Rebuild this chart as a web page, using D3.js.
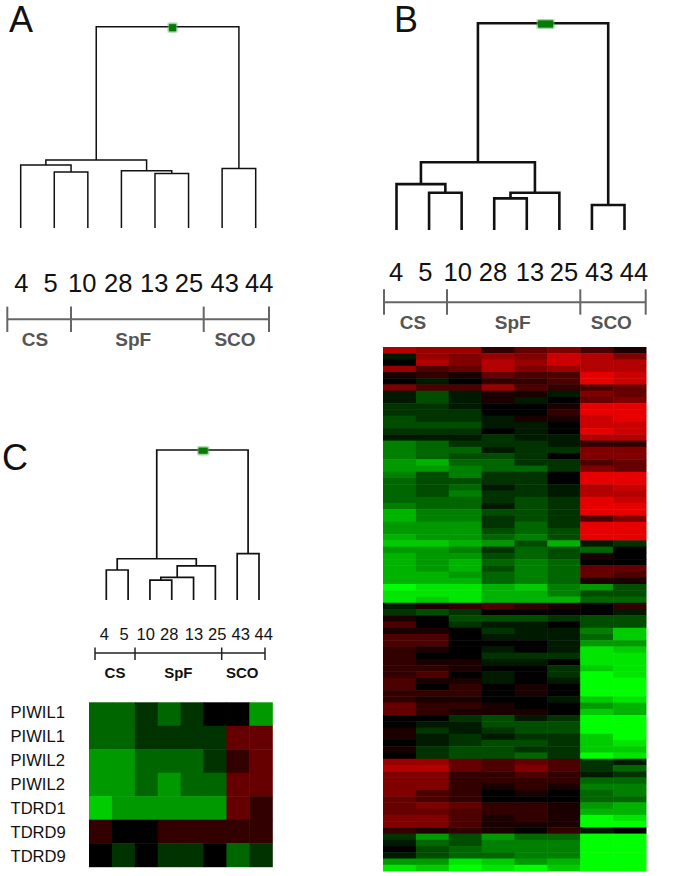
<!DOCTYPE html>
<html>
<head>
<title>Clustered expression heatmaps</title>
<script src="https://d3js.org/d3.v7.min.js"></script>
<style>
  html, body { margin: 0; padding: 0; background: #fff; }
  svg { display: block; }
  text { font-family: "Liberation Sans", Arial, sans-serif; }
</style>
</head>
<body>
<div id="chart"></div>
<script>
// sample ids, left to right
var samples = ["4", "5", "10", "28", "13", "25", "43", "44"];
var groups = [
  { name: "CS", from: 0, to: 1 },
  { name: "SpF", from: 1, to: 2 },
  { name: "SCO", from: 2, to: 3 }
];

// dendrograms, h = merge height (0 = leaves, 1 = root)
var leaf = function(s) { return { s: s }; };
var treeA = { h: 1, kids: [
  { h: 0.338, kids: [
    { h: 0.313, kids: [leaf("4"), { h: 0.278, kids: [leaf("5"), leaf("10")] }] },
    { h: 0.285, kids: [leaf("28"), { h: 0.271, kids: [leaf("13"), leaf("25")] }] }
  ] },
  { h: 0.295, kids: [leaf("43"), leaf("44")] }
] };
var treeB = { h: 1, kids: [
  { h: 0.328, kids: [
    { h: 0.222, kids: [leaf("4"), { h: 0.18, kids: [leaf("5"), leaf("10")] }] },
    { h: 0.18, kids: [{ h: 0.153, kids: [leaf("28"), leaf("13")] }, leaf("25")] }
  ] },
  { h: 0.121, kids: [leaf("43"), leaf("44")] }
] };
var treeC = { h: 1, kids: [
  { h: 0.275, kids: [
    { h: 0.2, kids: [leaf("4"), leaf("5")] },
    { h: 0.227, kids: [
      { h: 0.151, kids: [{ h: 0.133, kids: [leaf("10"), leaf("28")] }, leaf("13")] },
      leaf("25")
    ] }
  ] },
  { h: 0.309, kids: [leaf("43"), leaf("44")] }
] };

// panel C heatmap, red positive, green negative, -10..10
var genesC = ["PIWIL1", "PIWIL1", "PIWIL2", "PIWIL2", "TDRD1", "TDRD9", "TDRD9"];
var heatC = [
  [-4, -4, -2, -4, -2, 0, 0, -6],
  [-4, -4, -2, -2, -2, -2, 4, 4],
  [-6, -6, -4, -4, -4, -2, 2, 4],
  [-6, -6, -4, -6, -4, -4, 4, 4],
  [-8, -6, -6, -6, -6, -6, 4, 2],
  [2, 0, 0, 2, 2, 2, 2, 2],
  [0, -2, 0, -2, -2, 0, -4, -2]
];

// panel B heatmap
var heatB = [
  [7, 6, 6, 2, 4, 5, 3, 1],
  [-1, 6, 5, 6, 5, 8, 7, 5],
  [0, 7, 5, 7, 6, 8, 7, 7],
  [6, 3, 4, 7, 5, 6, 7, 7],
  [1, 2, 1, 4, 3, 3, 9, 8],
  [0, -1, 0, 2, 2, 3, 9, 8],
  [5, 3, 3, 6, 3, 2, 3, 4],
  [-1, -3, -1, 1, 1, -1, 5, 4],
  [-1, -3, -1, 1, -1, 0, 4, 5],
  [-2, -2, -1, 0, 0, 1, 9, 9],
  [-2, -2, -2, 0, 0, 2, 9, 9],
  [-3, -2, -2, -1, 1, 1, 8, 9],
  [-3, -3, -3, -1, -1, 0, 8, 8],
  [-2, -2, -2, 0, -1, 0, 9, 8],
  [-1, -1, -1, -2, -1, -1, 7, 7],
  [-5, -4, -2, -2, -2, -1, 2, 2],
  [-5, -4, -4, -1, -2, -2, 5, 5],
  [-5, -4, -3, -3, -2, 0, 5, 5],
  [-6, -7, -4, -4, -2, -2, 3, 4],
  [-6, -6, -5, -4, -4, -2, 5, 4],
  [-5, -3, -5, -2, -2, 0, 9, 9],
  [-4, -3, -3, -2, -2, 0, 9, 9],
  [-4, -3, -4, -1, -2, -1, 7, 8],
  [-4, -3, -5, -2, -2, -1, 7, 7],
  [-4, -4, -4, -2, -3, -2, 9, 8],
  [-5, -4, -4, -1, -3, -2, 9, 9],
  [-7, -5, -5, -3, -3, -2, 9, 9],
  [-7, -5, -5, -2, -3, -2, 3, 5],
  [-6, -6, -6, -2, -4, -2, 9, 9],
  [-6, -6, -6, -3, -4, -3, 9, 9],
  [-7, -6, -6, -4, -5, -3, 9, 9],
  [-8, -8, -7, -6, -3, -7, -1, -2],
  [-6, -6, -5, -2, -4, -3, -4, 0],
  [-7, -6, -6, -3, -4, -3, 1, 0],
  [-7, -6, -7, -4, -5, -4, 0, 0],
  [-7, -6, -7, -3, -5, -4, 4, 4],
  [-7, -7, -6, -4, -5, -4, 4, 3],
  [-7, -7, -7, -4, -5, -4, 1, 1],
  [-10, -9, -9, -7, -8, -5, -6, -3],
  [-9, -9, -9, -7, -7, -5, -3, -3],
  [-9, -8, -9, -7, -7, -7, -4, -4],
  [-1, 1, 2, 3, 2, 1, 0, 2],
  [-2, -3, -2, 0, 0, 0, 0, -1],
  [1, 0, -3, -3, -3, -2, -3, -3],
  [3, 0, -2, -1, -1, 0, -3, -3],
  [1, 1, 0, -2, -1, -1, -5, -8],
  [3, 3, 0, -1, -1, -1, -4, -8],
  [3, 3, 0, 0, 0, -1, -6, -6],
  [2, 1, 0, -1, 0, -1, -9, -8],
  [2, 0, 0, -2, -2, -2, -9, -9],
  [2, 1, 1, -1, -1, 0, -9, -9],
  [2, 2, 1, 0, 0, -2, -8, -9],
  [2, 3, 0, -1, 0, -2, -10, -9],
  [3, 1, 1, -1, 0, -1, -10, -10],
  [3, 0, 2, 0, 1, 0, -10, -10],
  [2, 2, 2, 0, 1, 0, -10, -10],
  [2, 1, 1, 0, 0, -1, -8, -9],
  [4, 2, 2, 1, 0, 0, -6, -7],
  [4, 2, 1, 1, 1, 0, -8, -7],
  [0, 0, -2, -3, -1, -2, -10, -10],
  [0, -1, -1, -3, -3, -3, -10, -10],
  [1, -2, -1, -2, -3, -3, -10, -10],
  [1, -1, -2, -1, -2, -2, -8, -10],
  [0, -1, -2, -3, -3, -2, -8, -9],
  [1, -2, -3, -3, -2, -2, -8, -8],
  [0, -2, -3, -3, -4, -2, -10, -9],
  [6, 6, 4, 3, 4, 3, -2, -1],
  [7, 7, 4, 3, 5, 3, -2, -4],
  [5, 5, 2, 2, 3, 2, -1, -2],
  [5, 5, 2, 2, 2, 2, -4, -4],
  [5, 5, 2, 1, 2, 1, -5, -5],
  [5, 3, 2, 0, 1, 0, -4, -5],
  [4, 3, 2, 0, 0, 0, -4, -4],
  [4, 5, 4, 2, 2, 1, -6, -7],
  [4, 4, 3, 2, 2, 1, -7, -7],
  [5, 5, 3, 1, 2, 1, -10, -9],
  [5, 5, 3, 1, 1, 1, -10, -10],
  [2, 1, 2, 1, 0, 2, -1, 0],
  [-2, -6, -3, -6, -4, -4, -10, -10],
  [-1, -4, -3, -5, -5, -5, -10, -10],
  [0, -3, -4, -5, -5, -5, -10, -10],
  [-1, -3, -4, -4, -5, -5, -10, -10],
  [-6, -6, -9, -8, -6, -7, -10, -10],
  [-9, -8, -10, -9, -10, -8, -10, -10]
];

var svg = d3.select("#chart").append("svg")
  .attr("width", 692)
  .attr("height", 876);

var color = d3.scaleLinear()
  .domain([-10, 0, 10])
  .range(["#00ff00", "#000000", "#ff0000"]);

var defs = svg.append("defs");
function addBlur(id, sd) {
  defs.append("filter").attr("id", id)
    .attr("x", "-5%").attr("y", "-5%").attr("width", "110%").attr("height", "110%")
    .attr("color-interpolation-filters", "sRGB")
    .append("feGaussianBlur").attr("stdDeviation", sd);
}
addBlur("soft", 0.45);
addBlur("softHeat", 0.7);
addBlur("glow", 0.9);

function drawLetter(s, x, y) {
  svg.append("text").attr("x", x).attr("y", y)
    .style("font-size", "36px").style("fill", "#111").text(s);
}

// dendrogram from a nested tree, parent sits midway between its children
function drawTree(tree, o) {
  var x = d3.scalePoint().domain(samples).range(o.xRange);
  var y = d3.scaleLinear().domain([0, 1]).range(o.yRange);
  var root = d3.hierarchy(tree, function(d) { return d.kids; });
  root.eachAfter(function(n) {
    n.px = n.children ? d3.mean(n.children, function(c) { return c.px; }) : x(n.data.s);
    n.py = n.children ? y(n.data.h) : y(0);
  });
  var p = d3.path();
  root.descendants().forEach(function(n) {
    if (!n.children) return;
    var a = n.children[0], b = n.children[1];
    p.moveTo(a.px, a.py);
    p.lineTo(a.px, n.py);
    p.lineTo(b.px, n.py);
    p.lineTo(b.px, b.py);
  });
  var g = svg.append("g").attr("filter", "url(#soft)");
  g.append("path").attr("d", p.toString())
    .attr("fill", "none")
    .attr("stroke", "#111")
    .attr("stroke-width", o.lineWidth);

  // green root marker
  svg.append("rect")
    .attr("x", root.px + o.markDx - o.markW / 2 - 1)
    .attr("y", root.py + o.markDy - o.markH / 2 - 1)
    .attr("width", o.markW + 2).attr("height", o.markH + 2)
    .attr("fill", "#4fae4f").attr("filter", "url(#glow)");
  svg.append("rect")
    .attr("x", root.px + o.markDx - o.markW / 2)
    .attr("y", root.py + o.markDy - o.markH / 2)
    .attr("width", o.markW).attr("height", o.markH)
    .attr("fill", "#067a06");
}

function drawSampleLabels(pos, baseline, size) {
  var x = d3.scaleOrdinal().domain(samples).range(pos);
  svg.append("g").selectAll("text").data(samples).enter().append("text")
    .attr("x", function(d) { return x(d); })
    .attr("y", baseline)
    .attr("text-anchor", "middle")
    .style("font-size", size + "px")
    .style("fill", "#111")
    .text(function(d) { return d; });
}

function drawBracket(o) {
  var g = svg.append("g").attr("filter", "url(#soft)");
  g.append("line")
    .attr("x1", o.stops[0]).attr("x2", o.stops[3])
    .attr("y1", o.y).attr("y2", o.y)
    .attr("stroke", o.color).attr("stroke-width", o.width);
  g.selectAll(".stop").data(o.stops).enter().append("line")
    .attr("class", "stop")
    .attr("x1", function(d) { return d; })
    .attr("x2", function(d) { return d; })
    .attr("y1", o.y - o.up).attr("y2", o.y + o.down)
    .attr("stroke", o.color).attr("stroke-width", o.width);
  svg.append("g").selectAll("text").data(groups).enter().append("text")
    .attr("x", function(d, i) { return o.labelX[i]; })
    .attr("y", o.labelY)
    .attr("text-anchor", "middle")
    .style("font-size", o.size + "px")
    .style("font-weight", "bold")
    .style("fill", o.textColor)
    .text(function(d) { return d.name; });
}

function drawHeat(rows, box, filter) {
  var x = d3.scaleBand().domain(d3.range(samples.length)).range([box.x0, box.x1]);
  var y = d3.scaleBand().domain(d3.range(rows.length)).range([box.y0, box.y1]);
  var g = svg.append("g").attr("filter", "url(#" + filter + ")");
  var row = g.selectAll("g").data(rows).enter().append("g")
    .attr("transform", function(d, i) { return "translate(0," + y(i) + ")"; });
  row.selectAll("rect").data(function(d) { return d; }).enter().append("rect")
    .attr("x", function(d, i) { return x(i); })
    .attr("width", x.bandwidth() + 0.5)
    .attr("height", y.bandwidth() + 0.5)
    .attr("fill", function(d) { return color(d); });
}

// panel A
drawLetter("A", 9, 32);
drawTree(treeA, { xRange: [20.7, 255.7], yRange: [228, 26.7], lineWidth: 1.5,
  markDx: 5, markDy: 1, markW: 7, markH: 7 });
drawSampleLabels([21.3, 50.7, 82.3, 118.3, 154.3, 189, 224.7, 259.3], 291.7, 25.5);
drawBracket({ stops: [7.3, 71, 203.7, 269], y: 319.3, up: 12.7, down: 12.7,
  color: "#666", width: 2, labelX: [35, 133.3, 235], labelY: 346, size: 19, textColor: "#555" });

// panel B
drawLetter("B", 394, 31.7);
drawTree(treeB, { xRange: [396.5, 624.5], yRange: [230, 23.3], lineWidth: 2.6,
  markDx: 2.5, markDy: 0.7, markW: 15, markH: 7 });
drawSampleLabels([396, 425.3, 457.7, 493, 530, 564, 599.3, 634], 281, 25.5);
drawBracket({ stops: [384, 447, 580.3, 645.7], y: 302.3, up: 13, down: 12.4,
  color: "#666", width: 2, labelX: [413, 512.7, 611.3], labelY: 329, size: 19, textColor: "#555" });
drawHeat(heatB, { x0: 383, x1: 646, y0: 347, y1: 871 }, "softHeat");

// panel C
drawLetter("C", 2, 470);
drawTree(treeC, { xRange: [106.3, 259], yRange: [600, 450], lineWidth: 1.7,
  markDx: 0.7, markDy: 0.7, markW: 9, markH: 6 });
drawSampleLabels([104.3, 124, 145.7, 169.3, 194, 217.3, 240.7, 263.7], 640, 16.5);
drawBracket({ stops: [95, 135, 221.7, 265], y: 653, up: 5.5, down: 7,
  color: "#222", width: 1.5, labelX: [115, 178.3, 242.3], labelY: 678.3, size: 15, textColor: "#111" });
drawHeat(heatC, { x0: 89, x1: 272.3, y0: 702.3, y1: 866.7 }, "soft");

svg.append("g").selectAll("text").data(genesC).enter().append("text")
  .attr("x", 10.5)
  .attr("y", function(d, i) { return 718.3 + i * 24; })
  .style("font-size", "16.6px")
  .style("fill", "#111")
  .text(function(d) { return d; });
</script>
</body>
</html>
